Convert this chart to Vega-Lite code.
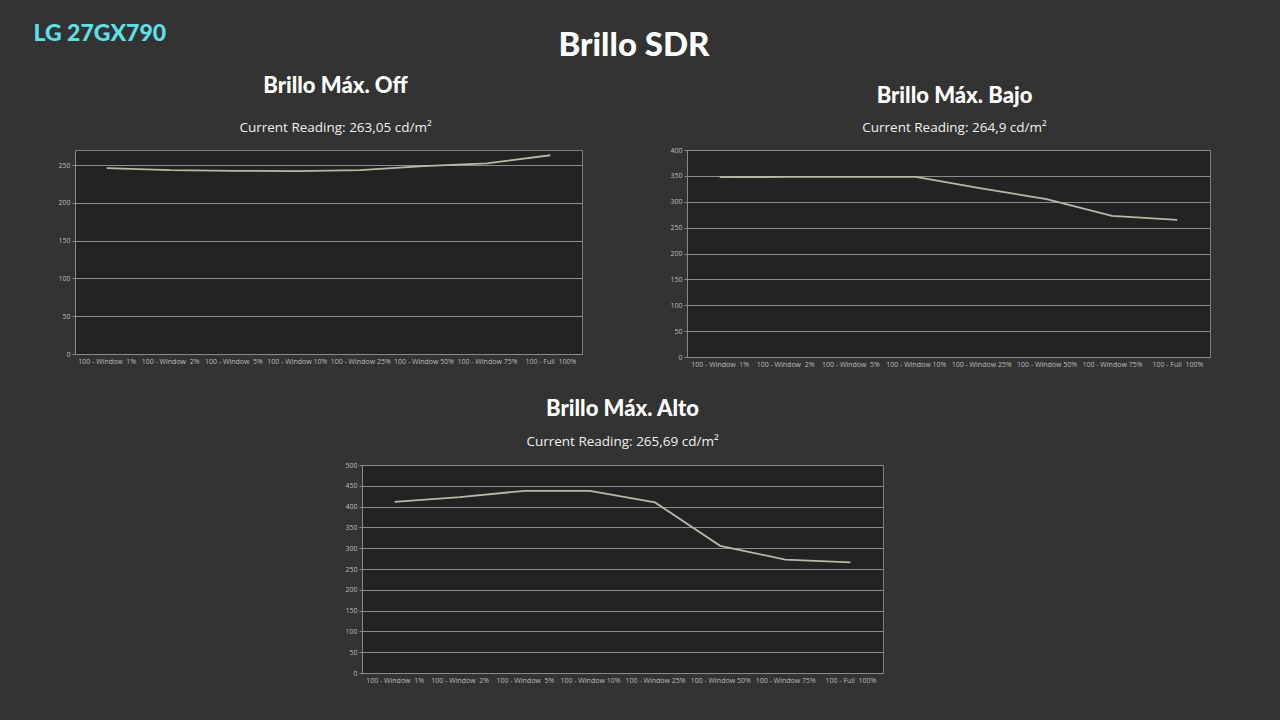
{
  "$schema": "https://vega.github.io/schema/vega-lite/v6.json",
  "background": "#333333",
  "padding": {"left": 33, "top": 23, "right": 70, "bottom": 36},
  "title": {"text": "LG 27GX790", "anchor": "start", "offset": -16, "dx": -24, "font": "Lato", "fontSize": 23, "fontWeight": 900, "color": "#5fe0e6"},
  "datasets": {
    "off": [
      {"window": "100 - Window\u00a0 1%", "cdm2": 246},
      {"window": "100 - Window\u00a0 2%", "cdm2": 243.3},
      {"window": "100 - Window\u00a0 5%", "cdm2": 242.5},
      {"window": "100 - Window 10%", "cdm2": 242},
      {"window": "100 - Window 25%", "cdm2": 243.3},
      {"window": "100 - Window 50%", "cdm2": 248.7},
      {"window": "100 - Window 75%", "cdm2": 252.3},
      {"window": "100 - Full\u00a0 100%", "cdm2": 263.05}
    ],
    "bajo": [
      {"window": "100 - Window\u00a0 1%", "cdm2": 347.5},
      {"window": "100 - Window\u00a0 2%", "cdm2": 348},
      {"window": "100 - Window\u00a0 5%", "cdm2": 348},
      {"window": "100 - Window 10%", "cdm2": 348},
      {"window": "100 - Window 25%", "cdm2": 326},
      {"window": "100 - Window 50%", "cdm2": 305},
      {"window": "100 - Window 75%", "cdm2": 272.6},
      {"window": "100 - Full\u00a0 100%", "cdm2": 264.9}
    ],
    "alto": [
      {"window": "100 - Window\u00a0 1%", "cdm2": 411.6},
      {"window": "100 - Window\u00a0 2%", "cdm2": 422.8},
      {"window": "100 - Window\u00a0 5%", "cdm2": 438},
      {"window": "100 - Window 10%", "cdm2": 438},
      {"window": "100 - Window 25%", "cdm2": 410},
      {"window": "100 - Window 50%", "cdm2": 305.8},
      {"window": "100 - Window 75%", "cdm2": 272.6},
      {"window": "100 - Full\u00a0 100%", "cdm2": 265.69}
    ]
  },
  "vconcat": [
    {
      "title": {"text": "Brillo SDR", "anchor": "middle", "offset": 11, "font": "Lato", "fontSize": 33, "fontWeight": 900, "color": "#ffffff"},
      "spacing": 29,
      "vconcat": [
        {
          "spacing": 86,
          "hconcat": [
            {
              "title": {"text": "Brillo Máx. Off", "subtitle": "Current Reading: 263,05 cd/m²", "subtitlePadding": 23, "offset": 15, "dx": 7},
              "width": 507, "height": 204,
              "data": {"name": "off"},
              "mark": {"type": "line", "color": "#b9b9ab", "strokeWidth": 1.8},
              "encoding": {
                "x": {"field": "window", "type": "ordinal", "sort": null, "scale": {"type": "point", "padding": 0.5}, "axis": {"title": null}},
                "y": {"field": "cdm2", "type": "quantitative", "scale": {"domain": [0, 270], "nice": false}, "axis": {"title": null, "values": [0, 50, 100, 150, 200, 250]}}
              }
            },
            {
              "title": {"text": "Brillo Máx. Bajo", "subtitle": "Current Reading: 264,9 cd/m²", "subtitlePadding": 13, "offset": 11, "dx": 6},
              "width": 523, "height": 207,
              "data": {"name": "bajo"},
              "mark": {"type": "line", "color": "#b9b9ab", "strokeWidth": 1.8},
              "encoding": {
                "x": {"field": "window", "type": "ordinal", "sort": null, "scale": {"type": "point", "padding": 0.5}, "axis": {"title": null}},
                "y": {"field": "cdm2", "type": "quantitative", "scale": {"domain": [0, 400], "nice": false}, "axis": {"title": null, "values": [0, 50, 100, 150, 200, 250, 300, 350, 400]}}
              }
            }
          ]
        },
        {
          "spacing": 0,
          "hconcat": [
            {
              "width": 269, "height": 10,
              "view": {"fill": null, "stroke": null},
              "data": {"values": []},
              "mark": {"type": "rule"},
              "encoding": {}
            },
            {
              "title": {"text": "Brillo Máx. Alto", "subtitle": "Current Reading: 265,69 cd/m²", "subtitlePadding": 14, "offset": 12},
              "width": 521, "height": 208,
              "data": {"name": "alto"},
              "mark": {"type": "line", "color": "#b9b9ab", "strokeWidth": 1.8},
              "encoding": {
                "x": {"field": "window", "type": "ordinal", "sort": null, "scale": {"type": "point", "padding": 0.5}, "axis": {"title": null}},
                "y": {"field": "cdm2", "type": "quantitative", "scale": {"domain": [0, 500], "nice": false}, "axis": {"title": null, "values": [0, 50, 100, 150, 200, 250, 300, 350, 400, 450, 500]}}
              }
            }
          ]
        }
      ]
    }
  ],
  "config": {
    "view": {"fill": "#232323", "stroke": "#7c7c7c", "strokeWidth": 1},
    "title": {"font": "Lato", "fontSize": 22, "fontWeight": 900, "color": "#ffffff", "anchor": "middle", "subtitleFont": "Open Sans", "subtitleFontSize": 13.5, "subtitleColor": "#f0f0f0", "subtitleFontWeight": "normal"},
    "axis": {"labelFont": "Open Sans", "labelFontSize": 7, "labelColor": "#bdbdbd", "domainColor": "#8a8a8a", "tickColor": "#8a8a8a", "gridColor": "#8c8c8c", "gridWidth": 1, "gridOpacity": 1},
    "axisX": {"grid": false, "ticks": false, "labelAngle": 0, "labelPadding": 3, "domain": true},
    "axisY": {"grid": true, "tickSize": 3, "labelPadding": 2, "domain": true}
  }
}
